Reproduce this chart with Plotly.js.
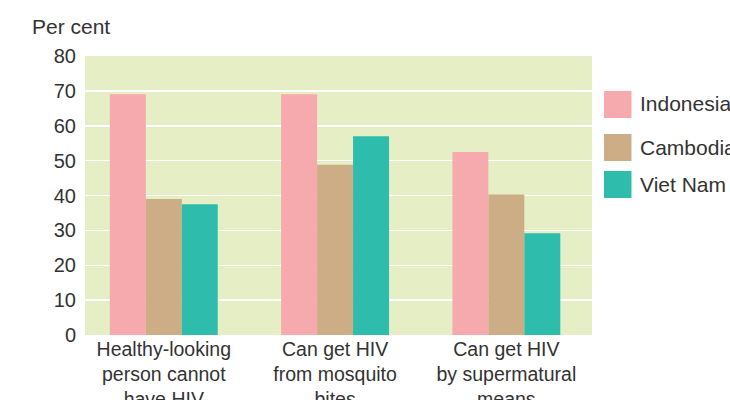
<!DOCTYPE html>
<html>
<head>
<meta charset="utf-8">
<script src="https://cdn.plot.ly/plotly-3.0.1.min.js"></script>
<style>html,body{margin:0;padding:0;background:#fff;}#chart{width:730px;height:400px;}</style>
</head>
<body>
<div id="chart"></div>
<script>
var categories = ["Healthy-looking<br>person cannot<br>have HIV", "Can get HIV<br>from mosquito<br>bites", "Can get HIV<br>by supermatural<br>means"];
var seriesNames = ["Indonesia", "Cambodia", "Viet Nam"];
var indonesia = [69, 69, 52.5];
var cambodia = [39, 48.8, 40.3];
var vietNam = [37.5, 57, 29.2];
var yTicks = [0, 10, 20, 30, 40, 50, 60, 70, 80];

var colors = ["#F6AAAD", "#CDAD85", "#2EBCAC"];
var values = [indonesia, cambodia, vietNam];

var traces = values.map(function (v, i) {
  return {
    type: "bar",
    name: seriesNames[i],
    x: [0, 1, 2],
    y: v,
    marker: {color: colors[i]},
    hoverinfo: "none"
  };
});

// custom legend (large squares like the reference)
var legSq = [[0.7778, 0.8746], [0.6237, 0.7204], [0.491, 0.5878]];
var legTxtY = [0.828, 0.6738, 0.5412];
var shapes = [];
var annotations = [];
var txtFont = {family: "Liberation Sans, Arial, sans-serif", size: 21, color: "#333"};
seriesNames.forEach(function (n, i) {
  shapes.push({type: "rect", xref: "paper", yref: "paper", x0: 1.0237, x1: 1.0779,
    y0: legSq[i][0], y1: legSq[i][1], fillcolor: colors[i], line: {width: 0}});
  annotations.push({xref: "paper", yref: "paper", x: 1.0907, y: legTxtY[i], xanchor: "left",
    yanchor: "middle", text: n, showarrow: false, font: txtFont});
});
annotations.push({xref: "paper", yref: "paper", x: -0.1085, y: 1.104, xanchor: "left",
  yanchor: "middle", text: "Per cent", showarrow: false, font: txtFont});

var layout = {
  width: 730, height: 400,
  margin: {l: 85, r: 138, t: 56, b: 65},
  paper_bgcolor: "#ffffff",
  plot_bgcolor: "#E5EEC4",
  barmode: "group",
  bargap: 0.37,
  bargroupgap: 0,
  showlegend: false,
  font: {family: "Liberation Sans, Arial, sans-serif", size: 19, color: "#333"},
  xaxis: {
    range: [-0.46, 2.5],
    tickmode: "array",
    tickvals: [0, 1, 2],
    ticktext: categories,
    showgrid: false, zeroline: false, showline: false,
    ticks: "",
    tickfont: {size: 19.5, color: "#333"}
  },
  yaxis: {
    range: [0, 80],
    tickmode: "array",
    tickvals: yTicks,
    ticktext: yTicks.map(String),
    showgrid: true, gridcolor: "#ffffff", gridwidth: 1.5,
    zeroline: false, showline: false,
    ticks: "outside", ticklen: 4, tickcolor: "rgba(0,0,0,0)",
    tickfont: {size: 20, color: "#333"}
  },
  shapes: shapes,
  annotations: annotations
};

Plotly.newPlot("chart", traces, layout, {displayModeBar: false, staticPlot: true});
</script>
</body>
</html>
